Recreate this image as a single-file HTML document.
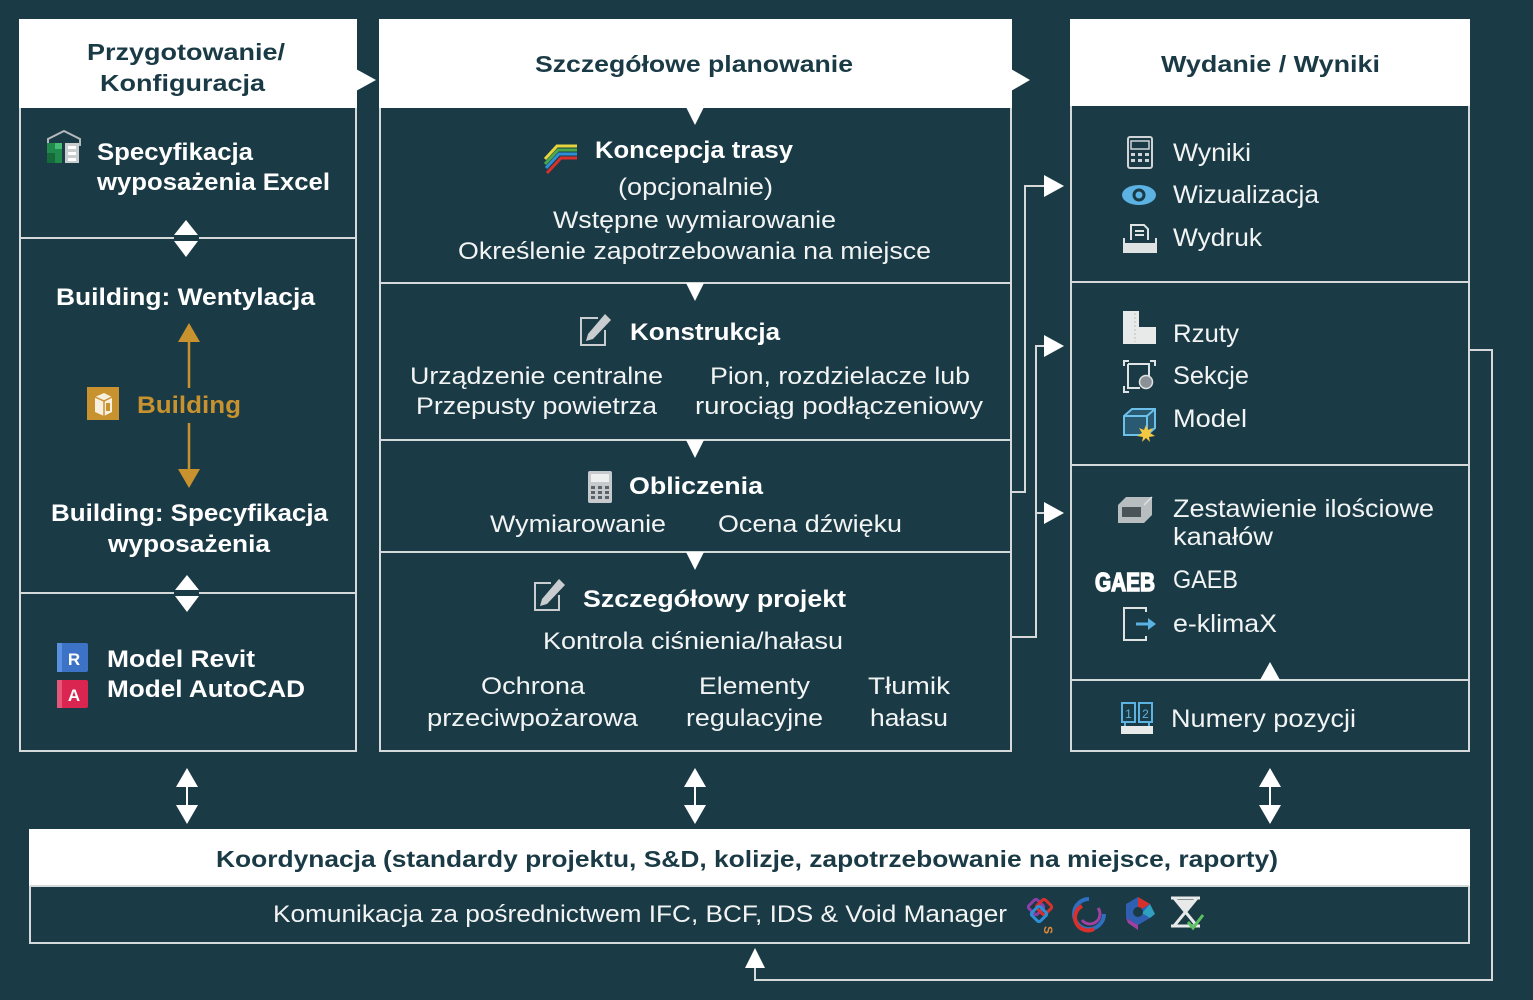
<!DOCTYPE html>
<html><head><meta charset="utf-8">
<style>
html,body{margin:0;padding:0;background:#1a3a45;}
svg{display:block}
text{font-family:"Liberation Sans",sans-serif;}
</style></head><body>
<svg width="1533" height="1000" viewBox="0 0 1533 1000" xmlns="http://www.w3.org/2000/svg">
<rect width="1533" height="1000" fill="#1a3a45"/>

<!-- ============ LEFT COLUMN ============ -->
<rect x="20" y="20" width="336" height="731" fill="none" stroke="#d5d9da" stroke-width="2"/>
<rect x="19" y="19" width="338" height="89" fill="#fff"/>
<polygon points="356,69 376,80 356,91" fill="#fff"/>
<g stroke="#d5d9da" stroke-width="2">
<line x1="20" y1="238" x2="174" y2="238"/><line x1="199" y1="238" x2="356" y2="238"/>
<line x1="20" y1="593" x2="174" y2="593"/><line x1="199" y1="593" x2="356" y2="593"/>
</g>
<g fill="#fff">
<polygon points="186,220 198,235 174,235"/><polygon points="174,241 198,241 186,257"/>
<polygon points="187,575 199,590 175,590"/><polygon points="175,596 199,596 187,612"/>
</g>
<g font-weight="bold" font-size="23" fill="#1a3a45">
<text x="87" y="60" textLength="198" lengthAdjust="spacingAndGlyphs">Przygotowanie/</text>
<text x="100" y="91" textLength="165" lengthAdjust="spacingAndGlyphs">Konfiguracja</text>
</g>
<g font-weight="bold" font-size="24" fill="#fff">
<text x="97" y="160" textLength="156" lengthAdjust="spacingAndGlyphs">Specyfikacja</text>
<text x="97" y="190" textLength="233" lengthAdjust="spacingAndGlyphs">wyposażenia Excel</text>
<text x="56" y="305" textLength="259" lengthAdjust="spacingAndGlyphs">Building: Wentylacja</text>
<text x="51" y="521" textLength="277" lengthAdjust="spacingAndGlyphs">Building: Specyfikacja</text>
<text x="108" y="552" textLength="162" lengthAdjust="spacingAndGlyphs">wyposażenia</text>
<text x="107" y="667" textLength="148" lengthAdjust="spacingAndGlyphs">Model Revit</text>
<text x="107" y="697" textLength="198" lengthAdjust="spacingAndGlyphs">Model AutoCAD</text>
<text x="137" y="413" textLength="104" lengthAdjust="spacingAndGlyphs" fill="#c8922e">Building</text>
</g>
<!-- gold arrows -->
<g stroke="#c8922e" stroke-width="2.5">
<line x1="189" y1="340" x2="189" y2="388"/>
<line x1="189" y1="423" x2="189" y2="471"/>
</g>
<g fill="#c8922e">
<polygon points="189,323 200,342 178,342"/>
<polygon points="178,469 200,469 189,488"/>
</g>
<!-- Excel icon -->
<polyline points="48,146 48,139 64,131 80,139 80,146" fill="none" stroke="#b4babc" stroke-width="2"/>
<rect x="47" y="143" width="15" height="20" fill="#1f8a4c"/>
<rect x="47" y="153" width="8" height="10" fill="#166a39"/>
<rect x="55" y="143" width="7" height="6" fill="#46bb74"/>
<rect x="65" y="143" width="14" height="20" fill="#c8cdd0"/>
<rect x="68" y="146" width="8" height="3" fill="#fff"/>
<rect x="68" y="152" width="8" height="3" fill="#fff"/>
<rect x="68" y="158" width="8" height="3" fill="#fff"/>
<!-- Building icon -->
<rect x="87" y="387" width="32" height="33" fill="#c8922e"/>
<polygon points="95,397 104,393 112,397 112,412 104,416 95,412" fill="#f7efe0"/>
<polyline points="95,397 104,401 112,397" fill="none" stroke="#c8922e" stroke-width="1.5"/>
<line x1="104" y1="401" x2="104" y2="416" stroke="#c8922e" stroke-width="1.5"/>
<rect x="106" y="403" width="4" height="8" fill="#c8922e"/>
<!-- Revit / AutoCAD -->
<rect x="57" y="643" width="31" height="29" rx="2" fill="#3d73c7"/>
<rect x="57" y="643" width="5" height="29" fill="#5b8fe0"/>
<text x="74" y="665" text-anchor="middle" font-size="17" font-weight="bold" fill="#fff">R</text>
<rect x="57" y="680" width="31" height="28" rx="2" fill="#d9254f"/>
<rect x="57" y="680" width="5" height="28" fill="#e8557a"/>
<text x="74" y="701" text-anchor="middle" font-size="17" font-weight="bold" fill="#fff">A</text>

<!-- ============ MIDDLE COLUMN ============ -->
<rect x="380" y="20" width="631" height="731" fill="none" stroke="#d5d9da" stroke-width="2"/>
<rect x="379" y="19" width="633" height="89" fill="#fff"/>
<polygon points="1011,69 1030,80 1011,91" fill="#fff"/>
<g stroke="#d5d9da" stroke-width="2">
<line x1="380" y1="283" x2="1011" y2="283"/>
<line x1="380" y1="440" x2="1011" y2="440"/>
<line x1="380" y1="552" x2="1011" y2="552"/>
</g>
<g fill="#fff">
<polygon points="686,107 704,107 695,125"/>
<polygon points="686,283 704,283 695,301"/>
<polygon points="686,440 704,440 695,458"/>
<polygon points="686,552 704,552 695,570"/>
</g>
<text x="535" y="72" font-size="23" font-weight="bold" fill="#1a3a45" textLength="318" lengthAdjust="spacingAndGlyphs">Szczegółowe planowanie</text>
<g font-weight="bold" font-size="24" fill="#fff">
<text x="595" y="158" textLength="198" lengthAdjust="spacingAndGlyphs">Koncepcja trasy</text>
<text x="630" y="340" textLength="150" lengthAdjust="spacingAndGlyphs">Konstrukcja</text>
<text x="629" y="494" textLength="134" lengthAdjust="spacingAndGlyphs">Obliczenia</text>
<text x="583" y="607" textLength="263" lengthAdjust="spacingAndGlyphs">Szczegółowy projekt</text>
</g>
<g font-size="24" fill="#f2f4f4">
<text x="618" y="195" textLength="155" lengthAdjust="spacingAndGlyphs">(opcjonalnie)</text>
<text x="553" y="228" textLength="283" lengthAdjust="spacingAndGlyphs">Wstępne wymiarowanie</text>
<text x="458" y="259" textLength="473" lengthAdjust="spacingAndGlyphs">Określenie zapotrzebowania na miejsce</text>
<text x="410" y="384" textLength="253" lengthAdjust="spacingAndGlyphs">Urządzenie centralne</text>
<text x="416" y="414" textLength="241" lengthAdjust="spacingAndGlyphs">Przepusty powietrza</text>
<text x="710" y="384" textLength="260" lengthAdjust="spacingAndGlyphs">Pion, rozdzielacze lub</text>
<text x="695" y="414" textLength="288" lengthAdjust="spacingAndGlyphs">rurociąg podłączeniowy</text>
<text x="490" y="532" textLength="176" lengthAdjust="spacingAndGlyphs">Wymiarowanie</text>
<text x="718" y="532" textLength="184" lengthAdjust="spacingAndGlyphs">Ocena dźwięku</text>
<text x="543" y="649" textLength="300" lengthAdjust="spacingAndGlyphs">Kontrola ciśnienia/hałasu</text>
<text x="481" y="694" textLength="104" lengthAdjust="spacingAndGlyphs">Ochrona</text>
<text x="427" y="726" textLength="211" lengthAdjust="spacingAndGlyphs">przeciwpożarowa</text>
<text x="699" y="694" textLength="111" lengthAdjust="spacingAndGlyphs">Elementy</text>
<text x="686" y="726" textLength="137" lengthAdjust="spacingAndGlyphs">regulacyjne</text>
<text x="868" y="694" textLength="82" lengthAdjust="spacingAndGlyphs">Tłumik</text>
<text x="870" y="726" textLength="78" lengthAdjust="spacingAndGlyphs">hałasu</text>
</g>
<!-- route icon -->
<g fill="none" stroke-width="3">
<polyline points="545,159 557,146 577,146" stroke="#e6d43c"/>
<polyline points="545,164 558,150 577,150" stroke="#4aa84a"/>
<polyline points="546,168 559,154 577,154" stroke="#2f8fd6"/>
<polyline points="547,173 561,158 577,158" stroke="#d9302c"/>
</g>
<!-- edit icons -->
<g fill="none" stroke="#c9cdcf" stroke-width="2">
<polyline points="598,318 581,318 581,345 605,345 605,330"/>
<polyline points="551,583 535,583 535,610 559,610 559,595"/>
</g>
<g fill="#c9cdcf">
<polygon points="605,314 611,320 593,339 586,341 588,334"/>
<polygon points="559,579 565,585 547,604 540,606 542,599"/>
</g>
<!-- calculator (Obliczenia) -->
<rect x="588" y="471" width="24" height="32" rx="2" fill="#c6cacc"/>
<rect x="591" y="474" width="18" height="8" fill="#eef0f0"/>
<g fill="#5a6468">
<rect x="591" y="486" width="4" height="3"/><rect x="598" y="486" width="4" height="3"/><rect x="605" y="486" width="4" height="3"/>
<rect x="591" y="491" width="4" height="3"/><rect x="598" y="491" width="4" height="3"/><rect x="605" y="491" width="4" height="3"/>
<rect x="591" y="496" width="4" height="3"/><rect x="598" y="496" width="4" height="3"/><rect x="605" y="496" width="4" height="3"/>
</g>

<!-- connectors middle -> right -->
<g fill="none" stroke="#d5d9da" stroke-width="2">
<polyline points="1011,492 1025,492 1025,186 1046,186"/>
<polyline points="1011,637 1036,637 1036,346 1046,346"/>
<line x1="1036" y1="513" x2="1046" y2="513"/>
<polyline points="1469,350 1492,350 1492,980 755,980 755,966"/>
</g>
<g fill="#fff">
<polygon points="1044,175 1064,186 1044,197"/>
<polygon points="1044,335 1064,346 1044,357"/>
<polygon points="1044,502 1064,513 1044,524"/>
<polygon points="755,948 765,968 745,968"/>
</g>

<!-- ============ RIGHT COLUMN ============ -->
<rect x="1071" y="20" width="398" height="731" fill="none" stroke="#d5d9da" stroke-width="2"/>
<rect x="1070" y="19" width="400" height="87" fill="#fff"/>
<g stroke="#d5d9da" stroke-width="2">
<line x1="1071" y1="282" x2="1469" y2="282"/>
<line x1="1071" y1="465" x2="1469" y2="465"/>
<line x1="1071" y1="680" x2="1469" y2="680"/>
</g>
<polygon points="1260,680 1280,680 1270,662" fill="#fff"/>
<text x="1161" y="72" font-size="23" font-weight="bold" fill="#1a3a45" textLength="219" lengthAdjust="spacingAndGlyphs">Wydanie / Wyniki</text>
<g font-size="25" fill="#f2f4f4">
<text x="1173" y="161" textLength="78" lengthAdjust="spacingAndGlyphs">Wyniki</text>
<text x="1173" y="203" textLength="146" lengthAdjust="spacingAndGlyphs">Wizualizacja</text>
<text x="1173" y="246" textLength="89" lengthAdjust="spacingAndGlyphs">Wydruk</text>
<text x="1173" y="342" textLength="66" lengthAdjust="spacingAndGlyphs">Rzuty</text>
<text x="1173" y="384" textLength="76" lengthAdjust="spacingAndGlyphs">Sekcje</text>
<text x="1173" y="427" textLength="74" lengthAdjust="spacingAndGlyphs">Model</text>
<text x="1173" y="517" textLength="261" lengthAdjust="spacingAndGlyphs">Zestawienie ilościowe</text>
<text x="1173" y="545" textLength="100" lengthAdjust="spacingAndGlyphs">kanałów</text>
<text x="1173" y="588" textLength="65" lengthAdjust="spacingAndGlyphs">GAEB</text>
<text x="1173" y="632" textLength="104" lengthAdjust="spacingAndGlyphs">e-klimaX</text>
<text x="1171" y="727" textLength="185" lengthAdjust="spacingAndGlyphs">Numery pozycji</text>
</g>
<!-- calculator Wyniki -->
<rect x="1128" y="137" width="24" height="31" rx="2" fill="none" stroke="#d0d4d6" stroke-width="2"/>
<rect x="1131" y="141" width="18" height="8" fill="none" stroke="#d0d4d6" stroke-width="1.5"/>
<g fill="#d0d4d6">
<rect x="1131" y="153" width="4" height="3"/><rect x="1138" y="153" width="4" height="3"/><rect x="1145" y="153" width="4" height="3"/>
<rect x="1131" y="159" width="4" height="3"/><rect x="1138" y="159" width="4" height="3"/><rect x="1145" y="159" width="4" height="3"/>
</g>
<!-- eye -->
<ellipse cx="1139" cy="195" rx="17" ry="10" fill="#5bb2e3"/>
<circle cx="1139" cy="195" r="6.5" fill="#1a3a45"/>
<circle cx="1139" cy="195" r="3.5" fill="#5bb2e3"/>
<!-- printer -->
<path d="M1131,240 V225 H1144 L1148,229 V240" fill="none" stroke="#e0e3e4" stroke-width="2"/>
<line x1="1135" y1="231" x2="1144" y2="231" stroke="#e0e3e4" stroke-width="2"/>
<line x1="1135" y1="235" x2="1144" y2="235" stroke="#e0e3e4" stroke-width="2"/>
<path d="M1124,238 V252 H1156 V238" fill="none" stroke="#e0e3e4" stroke-width="2"/>
<rect x="1124" y="243" width="32" height="9" fill="#e0e3e4"/>
<!-- Rzuty -->
<rect x="1123" y="311" width="16" height="33" fill="#e8eaea"/>
<rect x="1139" y="327" width="17" height="17" fill="#e8eaea"/>
<line x1="1135" y1="313" x2="1135" y2="342" stroke="#b8bec0" stroke-width="1" stroke-dasharray="2,2"/>
<!-- Sekcje -->
<g fill="none" stroke="#e0e3e4" stroke-width="2">
<path d="M1124,366 V361 H1129"/><path d="M1150,361 H1155 V366"/>
<path d="M1124,386 V392 H1129"/>
<path d="M1128,364 H1149 V377 M1128,364 V388 H1140"/>
</g>
<circle cx="1146" cy="382" r="6.5" fill="#8a9196" stroke="#e0e3e4" stroke-width="1.5"/>
<!-- Model -->
<path d="M1124,416 L1132,409 H1155 V428 L1147,435 H1124 Z" fill="#2a5a72" stroke="#6cc0ea" stroke-width="2"/>
<path d="M1124,416 H1147 V435 M1147,416 L1155,409" fill="none" stroke="#6cc0ea" stroke-width="2"/>
<polygon points="1146,425 1148,430 1153,428 1150,433 1155,436 1149,437 1150,442 1146,438 1142,442 1143,437 1137,436 1142,433 1139,428 1144,430" fill="#f5c842"/>
<!-- duct -->
<path d="M1118,505 L1126,497 H1152 V515 L1144,523 H1118 Z" fill="#b8bdbf"/>
<path d="M1144,505 L1152,497" stroke="#dde0e1" stroke-width="1.5"/>
<rect x="1122" y="507" width="19" height="10" fill="#4a5458"/>
<!-- GAEB logo -->
<text x="1095" y="591" font-size="26" font-weight="bold" fill="#fff" stroke="#fff" stroke-width="1.5" textLength="60" lengthAdjust="spacingAndGlyphs">GAEB</text>
<!-- e-klimaX -->
<path d="M1146,612 V608 H1124 V640 H1146 V636" fill="none" stroke="#e0e3e4" stroke-width="2"/>
<line x1="1136" y1="624" x2="1149" y2="624" stroke="#5bb2e3" stroke-width="3"/>
<polygon points="1148,618 1156,624 1148,630" fill="#5bb2e3"/>
<!-- Numery -->
<rect x="1122" y="703" width="13" height="19" fill="none" stroke="#5bb2e3" stroke-width="2"/>
<rect x="1139" y="703" width="13" height="19" fill="none" stroke="#5bb2e3" stroke-width="2"/>
<text x="1128.5" y="718" text-anchor="middle" font-size="12" fill="#5bb2e3">1</text>
<text x="1145.5" y="718" text-anchor="middle" font-size="12" fill="#5bb2e3">2</text>
<line x1="1125" y1="722" x2="1125" y2="727" stroke="#5bb2e3" stroke-width="2"/>
<line x1="1149" y1="722" x2="1149" y2="727" stroke="#5bb2e3" stroke-width="2"/>
<rect x="1121" y="726" width="32" height="8" fill="#e8eaea"/>

<!-- ============ BOTTOM DOUBLE ARROWS ============ -->
<g stroke="#fff" stroke-width="2">
<line x1="187" y1="785" x2="187" y2="807"/>
<line x1="695" y1="785" x2="695" y2="807"/>
<line x1="1270" y1="785" x2="1270" y2="807"/>
</g>
<g fill="#fff">
<polygon points="187,768 198,787 176,787"/><polygon points="176,805 198,805 187,824"/>
<polygon points="695,768 706,787 684,787"/><polygon points="684,805 706,805 695,824"/>
<polygon points="1270,768 1281,787 1259,787"/><polygon points="1259,805 1281,805 1270,824"/>
</g>

<!-- ============ BOTTOM BAR ============ -->
<rect x="30" y="830" width="1439" height="113" fill="none" stroke="#d5d9da" stroke-width="2"/>
<rect x="29" y="829" width="1441" height="57" fill="#fff"/>
<line x1="30" y1="886" x2="1469" y2="886" stroke="#d5d9da" stroke-width="2"/>
<text x="216" y="867" font-size="23" font-weight="bold" fill="#1a3a45" textLength="1062" lengthAdjust="spacingAndGlyphs">Koordynacja (standardy projektu, S&amp;D, kolizje, zapotrzebowanie na miejsce, raporty)</text>
<text x="273" y="922" font-size="24" fill="#f2f4f4" textLength="734" lengthAdjust="spacingAndGlyphs">Komunikacja za pośrednictwem IFC, BCF, IDS &amp; Void Manager</text>
<!-- logos -->
<g fill="none" stroke-width="3">
<rect x="1030" y="901" width="12" height="12" rx="2" transform="rotate(45 1036 907)" stroke="#8a3fa8"/>
<rect x="1038" y="901" width="12" height="12" rx="2" transform="rotate(45 1044 907)" stroke="#d9302c"/>
<rect x="1033" y="908" width="12" height="12" rx="2" transform="rotate(45 1039 914)" stroke="#2f8fd6"/>
</g>
<text x="1049" y="931" font-size="12" font-weight="bold" fill="#e08a3a" transform="rotate(90 1049 926)">S</text>
<path d="M1089,899 A15,15 0 1 0 1104,914" fill="none" stroke="#2f6fc0" stroke-width="4"/>
<path d="M1094,929 A12,12 0 0 1 1082,906" fill="none" stroke="#d9302c" stroke-width="4"/>
<path d="M1082,920 A9,9 0 0 0 1098,908" fill="none" stroke="#a040a0" stroke-width="3"/>
<polygon points="1138,897 1150,904 1150,918 1138,925 1126,918 1126,904" fill="#2f5fb0"/>
<polygon points="1138,897 1150,904 1138,911" fill="#d9302c"/>
<polygon points="1150,904 1155,914 1150,918 1142,913" fill="#2fa0c0"/>
<polygon points="1126,918 1138,925 1138,930 1128,923" fill="#a040a0"/>
<circle cx="1138" cy="912" r="5" fill="#1a3a45"/>
<path d="M1171,898 H1200 M1171,926 H1200 M1174,898 L1197,926 M1197,898 L1174,926" fill="none" stroke="#e8eaea" stroke-width="3"/>
<polygon points="1176,900 1195,900 1186,911" fill="#e8eaea"/>
<polyline points="1188,922 1193,928 1203,915" fill="none" stroke="#5cc060" stroke-width="3"/>
</svg>
</body></html>
